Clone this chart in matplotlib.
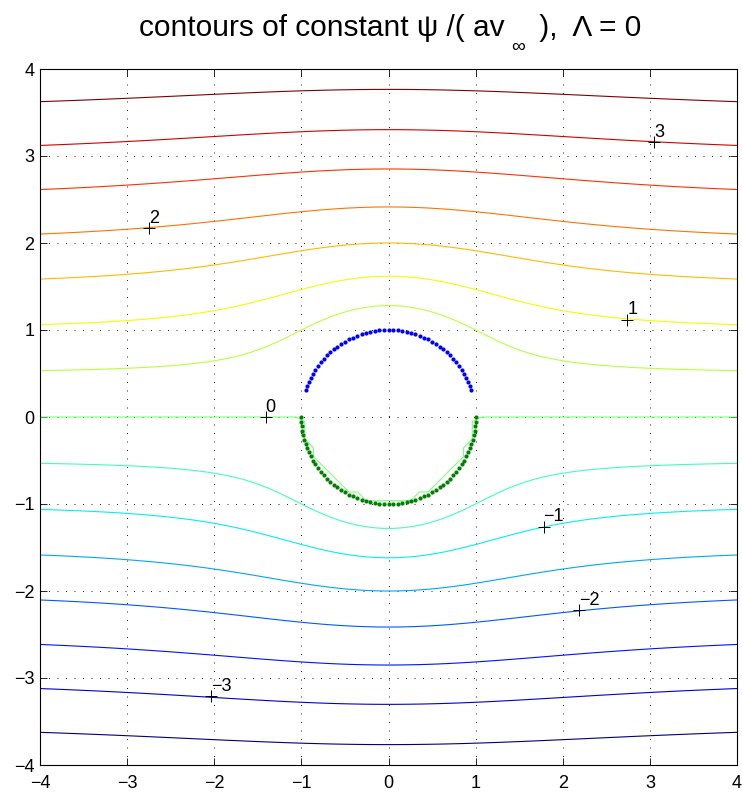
import numpy as np
import matplotlib
matplotlib.use("Agg")
import matplotlib.pyplot as plt

plt.rcParams['font.family'] = ['Liberation Sans', 'DejaVu Sans']
plt.rcParams['axes.unicode_minus'] = True

# contour levels of psi / (a v_inf)
levels = [-3.5, -3.0, -2.5, -2.0, -1.5, -1.0, -0.5, 0.0,
          0.5, 1.0, 1.5, 2.0, 2.5, 3.0, 3.5]

# clabel positions
label_x = [3.05, -2.75, 2.74, -1.41, 1.78, 2.19, -2.04]
label_y = [3.16, 2.17, 1.12, 0.0, -1.26, -2.22, -3.21]
label_text = ['3', '2', '1', '0', '\u22121', '\u22122', '\u22123']

# points on the cylinder surface (degrees)
top_angles = np.arange(18, 163, 3)
bottom_angles = np.arange(180, 361, 3)
radius = 1.0
inside_value = 1e-9   # value put inside the cylinder
n_grid = 80

# stream function of uniform flow past a cylinder
x = np.linspace(-4, 4, n_grid)
y = np.linspace(-4, 4, n_grid)
X, Y = np.meshgrid(x, y)
R2 = X**2 + Y**2
psi = Y * (1 - radius**2 / R2)
psi[R2 < radius**2] = inside_value

fig = plt.figure(figsize=(7.42, 7.93), dpi=100)
ax = fig.add_axes([40/742, 28/793, 697/742, 696/793])

ax.contour(X, Y, psi, levels=levels, cmap='jet', linewidths=0.8)

t1 = np.deg2rad(top_angles)
t2 = np.deg2rad(bottom_angles)
ax.plot(radius*np.cos(t1), radius*np.sin(t1), 'o', color='b', ms=3, mec='none')
ax.plot(radius*np.cos(t2), radius*np.sin(t2), 'o', color=(0, 0.5, 0), ms=3, mec='none')

# labels like matlab clabel
ax.plot(label_x, label_y, '+', color='k', ms=9, mew=0.7)
for lx, ly, lt in zip(label_x, label_y, label_text):
    ax.annotate(lt, (lx, ly), xytext=(0, 1), textcoords='offset points',
                ha='left', va='bottom', fontsize=13)

ax.set_xlim(-4, 4)
ax.set_ylim(-4, 4)
ax.set_xticks(range(-4, 5))
ax.set_yticks(range(-4, 5))
ax.grid(True, linestyle=(0, (1.2, 9)), color='k', linewidth=0.6)
ax.tick_params(direction='in', top=True, right=True, length=5, width=0.6,
               labelsize=13)
ax.tick_params(axis='x', pad=7)
ax.tick_params(axis='y', pad=4)
for s in ax.spines.values():
    s.set_linewidth(0.8)

# title in three pieces so the subscript can sit low like in matlab
W, H = 742, 793
r = fig.canvas.get_renderer()
base = 1 - 36/H
pa = fig.text(0, base, 'contours of constant \u03c8 /( av', fontsize=21.5, va='baseline')
pb = fig.text(0, 1 - 52/H, '\u221e', fontsize=14, va='baseline')
pc = fig.text(0, base, ' ),  \u039b = 0', fontsize=21.5, va='baseline')
wa = pa.get_window_extent(r).width
wb = pb.get_window_extent(r).width
wc = pc.get_window_extent(r).width
gap = 6
total = wa + gap + wb + gap + wc
x0 = 390 - total/2
pa.set_x(x0/W)
pb.set_x((x0 + wa + gap)/W)
pc.set_x((x0 + wa + gap + wb + gap)/W)

fig.savefig('out.png', dpi=100)
